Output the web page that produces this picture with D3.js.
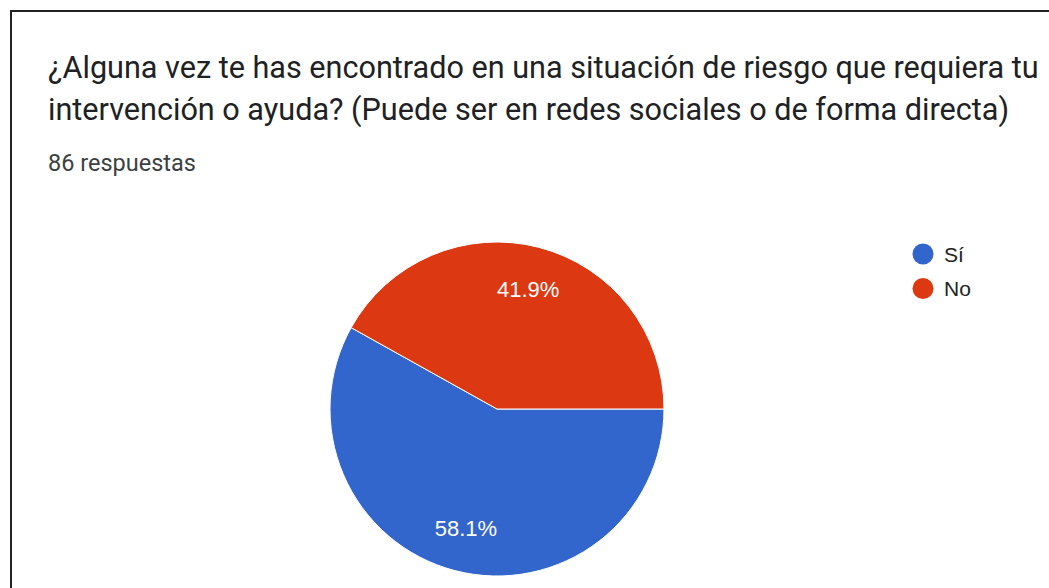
<!DOCTYPE html>
<html>
<head>
<meta charset="utf-8">
<script src="https://cdn.jsdelivr.net/npm/d3@7"></script>
<style>
  body { margin: 0; background: #fff; }
  svg { display: block; }
</style>
</head>
<body>
<div id="chart"></div>
<script>
var width = 1049, height = 588;

var titleLines = ["¿Alguna vez te has encontrado en una situación de riesgo que requiera tu",
                  "intervención o ayuda? (Puede ser en redes sociales o de forma directa)"],
    subtitle = "86 respuestas",
    categories = ["Sí", "No"],
    values = [58.1, 41.9],
    colors = ["#3366cc", "#dc3912"];

var cx = 497, cy = 409, radius = 167;

var svg = d3.select("#chart").append("svg")
    .attr("width", width)
    .attr("height", height);

// frame
svg.append("path")
    .attr("d", "M11,588 V11 H1049")
    .attr("fill", "none")
    .attr("stroke", "#222")
    .attr("stroke-width", 2);

svg.selectAll(".title")
    .data(titleLines)
    .enter().append("text")
    .attr("class", "title")
    .attr("x", 48)
    .attr("y", function(d, i) { return 78 + i * 42; })
    .style("font-family", "Roboto, sans-serif")
    .style("font-size", "30.6px")
    .style("fill", "#202124")
    .text(function(d) { return d; });

svg.append("text")
    .attr("x", 48)
    .attr("y", 171)
    .style("font-family", "Roboto, sans-serif")
    .style("font-size", "23.5px")
    .style("fill", "#3c4043")
    .text(subtitle);

var pie = d3.pie()
    .sort(null)
    .startAngle(Math.PI / 2)
    .endAngle(Math.PI / 2 + 2 * Math.PI)
    .value(function(d) { return d; });

var arc = d3.arc().innerRadius(0).outerRadius(radius);
var labelArc = d3.arc().innerRadius(radius * 0.74).outerRadius(radius * 0.74);

var g = svg.append("g")
    .attr("transform", "translate(" + cx + "," + cy + ")");

var slices = g.selectAll(".slice")
    .data(pie(values))
    .enter().append("g")
    .attr("class", "slice");

slices.append("path")
    .attr("d", arc)
    .style("fill", function(d, i) { return colors[i]; })
    .style("stroke", "#fff")
    .style("stroke-width", 1);

slices.append("text")
    .attr("transform", function(d) { return "translate(" + labelArc.centroid(d) + ")"; })
    .attr("dy", "0.35em")
    .attr("text-anchor", "middle")
    .style("font-family", "Arial, 'Liberation Sans', sans-serif")
    .style("font-size", "22px")
    .style("fill", "#fff")
    .text(function(d) { return d.data.toFixed(1) + "%"; });

var legend = svg.selectAll(".legend")
    .data(categories)
    .enter().append("g")
    .attr("class", "legend")
    .attr("transform", function(d, i) { return "translate(923," + (254 + i * 34.5) + ")"; });

legend.append("circle")
    .attr("r", 10.5)
    .style("fill", function(d, i) { return colors[i]; });

legend.append("text")
    .attr("x", 21)
    .attr("dy", "0.36em")
    .style("font-family", "Arial, 'Liberation Sans', sans-serif")
    .style("font-size", "21px")
    .style("fill", "#222")
    .text(function(d) { return d; });
</script>
</body>
</html>
